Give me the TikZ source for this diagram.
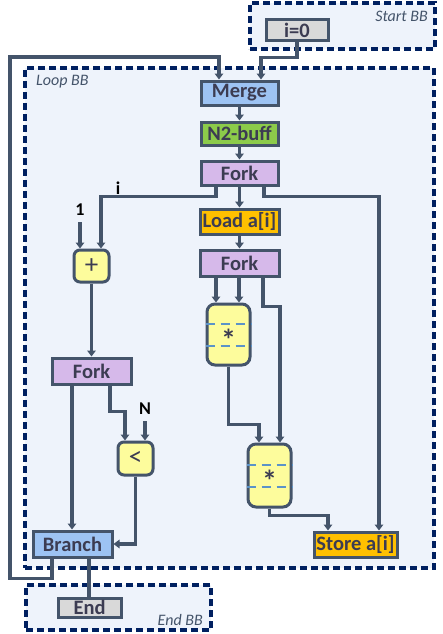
\documentclass[tikz,border=0pt]{standalone}
\usepackage{fontspec}
\setmainfont{Carlito}
\usetikzlibrary{arrows.meta}
\definecolor{bord}{HTML}{44546A}
\definecolor{navy}{HTML}{002060}
\definecolor{bbfill}{HTML}{EEF3FB}
\definecolor{txt}{HTML}{3C3C52}
\definecolor{cmerge}{HTML}{9DC3F3}
\definecolor{cgreen}{HTML}{8CCB4A}
\definecolor{cfork}{HTML}{D6B9EA}
\definecolor{corange}{HTML}{FFC000}
\definecolor{cyellow}{HTML}{FDFC9C}
\definecolor{cgray}{HTML}{D9D9D9}
\definecolor{cdash}{HTML}{5B93C8}
\tikzset{
  bb/.style={draw=navy, fill=bbfill, line width=3.2pt, dash pattern=on 7pt off 4pt, rectangle, inner sep=0pt},
  bblabel/.style={font=\fontsize{16}{18}\selectfont\itshape, text=bord, inner sep=0pt},
  box/.style={draw=bord, line width=3pt, rectangle, inner sep=0pt, text=txt,
    font=\fontsize{20.5}{22}\selectfont\bfseries},
  opbox/.style={box, rounded corners=6pt, fill=cyellow, font=\fontsize{27}{29}\selectfont},
  conn/.style={draw=bord, line width=3.1pt, -{Triangle[length=6pt,width=8.5pt]}},
  plainconn/.style={draw=bord, line width=3.1pt},
  lbl/.style={font=\fontsize{18}{20}\selectfont\bfseries, text=black, inner sep=0pt},
  innerdash/.style={draw=cdash, line width=2.6pt, dash pattern=on 9pt off 6pt}
}
\begin{document}
\begin{tikzpicture}[x=1pt,y=-1pt]
\useasboundingbox (0,0) rectangle (442,634);
% basic blocks
\node[bb, minimum width=185pt, minimum height=46pt] (startbb) at (342.5,26) {};
\node[bb, minimum width=409pt, minimum height=500pt] (loopbb) at (229.5,318) {};
\node[bb, minimum width=185pt, minimum height=45pt] (endbb) at (118.5,607.5) {};
\node[bblabel, anchor=east] (startlbl) at (428,16) {Start BB};
\node[bblabel, anchor=west] (looplbl) at (36,82) {Loop BB};
\node[bblabel, anchor=east] (endlbl) at (203,620) {End BB};
% nodes
\node[box, fill=cgray, minimum width=62pt, minimum height=21pt] (i0) at (297,30.5) {i=0};
\node[box, fill=cmerge, minimum width=77pt, minimum height=24pt] (merge) at (239.5,93) {Merge};
\node[box, fill=cgreen, minimum width=77pt, minimum height=23pt] (n2) at (239.5,133.5) {N2-buff};
\node[box, fill=cfork, minimum width=77pt, minimum height=24pt] (fork1) at (239.5,173) {Fork};
\node[box, fill=corange, minimum width=79pt, minimum height=25pt] (load) at (239.5,221.5) {Load a[i]};
\node[box, fill=cfork, minimum width=79pt, minimum height=26pt] (fork2) at (239.5,263) {Fork};
\node[opbox, minimum width=35pt, minimum height=32pt] (plus) at (91.5,266) {+};
\node[opbox, rounded corners=8pt, minimum width=43pt, minimum height=61pt] (mul1) at (228.5,334.5) {};
\node[box, fill=cfork, minimum width=79pt, minimum height=26pt] (fork3) at (91.5,371) {Fork};
\node[opbox, minimum width=35pt, minimum height=33pt] (lt) at (135.5,458.5) {<};
\node[opbox, rounded corners=8pt, minimum width=43pt, minimum height=63pt] (mul2) at (269.5,475.5) {};
\node[box, fill=cmerge, minimum width=79pt, minimum height=26pt] (branch) at (72.5,544) {Branch};
\node[box, fill=corange, minimum width=83pt, minimum height=25pt] (store) at (355.5,544.5) {Store a[i]};
\node[box, fill=cgray, minimum width=63pt, minimum height=19pt] (end) at (89.5,607.5) {End};
% dashes inside multipliers
\draw[innerdash] ([yshift=10.5pt]mul1.west) -- ([yshift=10.5pt]mul1.east);
\draw[innerdash] ([yshift=-11.5pt]mul1.west) -- ([yshift=-11.5pt]mul1.east);
\draw[innerdash] ([yshift=10.5pt]mul2.west) -- ([yshift=10.5pt]mul2.east);
\draw[innerdash] ([yshift=-11.5pt]mul2.west) -- ([yshift=-11.5pt]mul2.east);
\node[text=txt, font=\fontsize{30}{32}\selectfont\bfseries, inner sep=0pt] (mul1t) at ([yshift=-5pt]mul1.center) {*};
\node[text=txt, font=\fontsize{30}{32}\selectfont\bfseries, inner sep=0pt] (mul2t) at ([yshift=-5pt]mul2.center) {*};
% labels
\node[lbl] (c1) at (80,210) {1};
\node[lbl] (ci) at (118,188) {i};
\node[lbl] (cN) at (145,409) {N};
% connectors
\coordinate (lp) at (10,57);
\draw[conn] (i0.south) -- ++(0,15) -| ([xshift=21.5pt]merge.north);
\draw[conn] ([xshift=-20.5pt]branch.south) -- ++(0,20) -| (lp) -| ([xshift=-20.5pt]merge.north);
\draw[conn] (merge) -- (n2);
\draw[conn] (n2) -- (fork1);
\draw[conn] (fork1) -- (load);
\draw[conn] ([xshift=-23.5pt]fork1.south) -- ++(0,10) -| ([xshift=9.5pt]plus.north);
\draw[conn] ([xshift=24.5pt]fork1.south) -- ++(0,10) -| ([xshift=23.5pt]store.north);
\draw[conn] ([yshift=-6pt]c1.south) -- ([xshift=-11.5pt]plus.north);
\draw[conn] (load) -- (fork2);
\coordinate (f2a) at ([xshift=-23.5pt]fork2.south);
\coordinate (f2b) at ([xshift=-0.5pt]fork2.south);
\draw[conn] (f2a) -- (f2a |- mul1.north);
\draw[conn] (f2b) -- (f2b |- mul1.north);
\draw[conn] ([xshift=23.5pt]fork2.south) -- ++(0,29) -| ([xshift=10.5pt]mul2.north);
\draw[conn] (mul1.south) -- ++(0,58) -| ([xshift=-10.5pt]mul2.north);
\draw[conn] (mul2.south) -- ++(0,7) -| ([xshift=-27.5pt]store.north);
\draw[conn] (plus) -- (fork3);
\coordinate (f3a) at ([xshift=-19.5pt]fork3.south);
\draw[conn] (f3a) -- (f3a |- branch.north);
\draw[conn] ([xshift=18.5pt]fork3.south) -- ++(0,26) -| ([xshift=-10.5pt]lt.north);
\draw[conn] ([yshift=-6pt]cN.south) -- ([xshift=9.5pt]lt.north);
\draw[conn] (lt.south) |- (branch.east);
\coordinate (bq) at ([xshift=16.5pt]branch.south);
\draw[plainconn] (bq) -- (bq |- end.north);
\end{tikzpicture}
\end{document}
